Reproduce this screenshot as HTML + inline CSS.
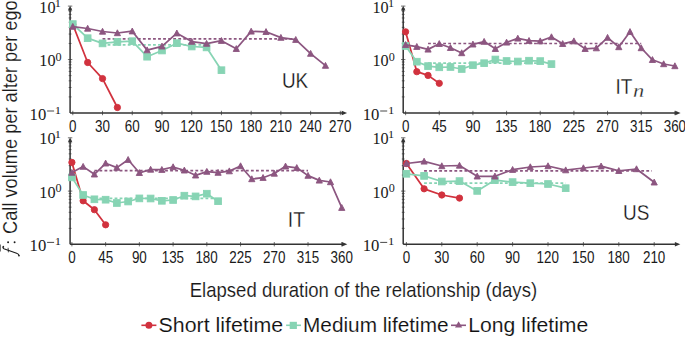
<!DOCTYPE html>
<html><head><meta charset="utf-8"><style>
html,body{margin:0;padding:0;background:#fff;}
body{width:685px;height:337px;overflow:hidden;}
svg{display:block;}
</style></head><body>
<svg width="685" height="337" viewBox="0 0 685 337">
<path d="M68.7 96.91h2.8M68.7 87.5h2.8M68.7 80.82h2.8M68.7 75.64h2.8M68.7 71.41h2.8M68.7 67.83h2.8M68.7 64.73h2.8M68.7 62h2.8M68.7 43.46h2.8M68.7 34.05h2.8M68.7 27.37h2.8M68.7 22.19h2.8M68.7 17.96h2.8M68.7 14.38h2.8M68.7 11.28h2.8M68.7 8.55h2.8M67.9 6.1h4.4M67.9 59.55h4.4" stroke="#333" stroke-width="0.7" fill="none"/>
<path d="M72.8 110.8v4.4M102.53 110.8v4.4M132.25 110.8v4.4M161.98 110.8v4.4M191.71 110.8v4.4M221.44 110.8v4.4M251.16 110.8v4.4M280.89 110.8v4.4M310.62 110.8v4.4M340.34 110.8v4.4" stroke="#333" stroke-width="0.7" fill="none"/>
<path d="M70.1 113V8.1M70.1 113H343.5" stroke="#333" stroke-width="1.5" fill="none"/>
<path d="M347.1 113l-5.4 -2.3v4.6z" fill="#333"/>
<path d="M70.1 5.8l-2.2 4.8h4.4z" fill="#333"/>
<text x="69.08" y="131.78" style="font-family:&quot;Liberation Sans&quot;,sans-serif;font-size:15.97px" fill="#1a1a1a" textLength="7.46" lengthAdjust="spacingAndGlyphs">0</text>
<text x="95.08" y="131.78" style="font-family:&quot;Liberation Sans&quot;,sans-serif;font-size:15.97px" fill="#1a1a1a" textLength="14.93" lengthAdjust="spacingAndGlyphs">30</text>
<text x="124.74" y="131.78" style="font-family:&quot;Liberation Sans&quot;,sans-serif;font-size:15.97px" fill="#1a1a1a" textLength="14.93" lengthAdjust="spacingAndGlyphs">60</text>
<text x="154.5" y="131.78" style="font-family:&quot;Liberation Sans&quot;,sans-serif;font-size:15.97px" fill="#1a1a1a" textLength="14.93" lengthAdjust="spacingAndGlyphs">90</text>
<text x="180.3" y="131.78" style="font-family:&quot;Liberation Sans&quot;,sans-serif;font-size:15.97px" fill="#1a1a1a" textLength="22.39" lengthAdjust="spacingAndGlyphs">120</text>
<text x="210.03" y="131.78" style="font-family:&quot;Liberation Sans&quot;,sans-serif;font-size:15.97px" fill="#1a1a1a" textLength="22.39" lengthAdjust="spacingAndGlyphs">150</text>
<text x="239.76" y="131.78" style="font-family:&quot;Liberation Sans&quot;,sans-serif;font-size:15.97px" fill="#1a1a1a" textLength="22.39" lengthAdjust="spacingAndGlyphs">180</text>
<text x="269.65" y="131.78" style="font-family:&quot;Liberation Sans&quot;,sans-serif;font-size:15.97px" fill="#1a1a1a" textLength="22.39" lengthAdjust="spacingAndGlyphs">210</text>
<text x="299.38" y="131.78" style="font-family:&quot;Liberation Sans&quot;,sans-serif;font-size:15.97px" fill="#1a1a1a" textLength="22.39" lengthAdjust="spacingAndGlyphs">240</text>
<text x="329.1" y="131.78" style="font-family:&quot;Liberation Sans&quot;,sans-serif;font-size:15.97px" fill="#1a1a1a" textLength="22.39" lengthAdjust="spacingAndGlyphs">270</text>
<text x="39.34" y="12.74" style="font-family:&quot;Liberation Serif&quot;,serif;font-size:16.15px" fill="#1a1a1a" textLength="16.21" lengthAdjust="spacingAndGlyphs">10</text>
<text x="54.89" y="6.7" style="font-family:&quot;Liberation Serif&quot;,serif;font-size:10.61px" fill="#1a1a1a" textLength="6.14" lengthAdjust="spacingAndGlyphs">1</text>
<text x="39.34" y="66.19" style="font-family:&quot;Liberation Serif&quot;,serif;font-size:16.15px" fill="#1a1a1a" textLength="16.21" lengthAdjust="spacingAndGlyphs">10</text>
<text x="55.61" y="60.94" style="font-family:&quot;Liberation Serif&quot;,serif;font-size:11.41px" fill="#1a1a1a" textLength="6.07" lengthAdjust="spacingAndGlyphs">0</text>
<text x="29.6" y="119.64" style="font-family:&quot;Liberation Serif&quot;,serif;font-size:16.15px" fill="#1a1a1a" textLength="16.67" lengthAdjust="spacingAndGlyphs">10</text>
<text x="54.87" y="114" style="font-family:&quot;Liberation Serif&quot;,serif;font-size:11.36px" fill="#1a1a1a" textLength="6.29" lengthAdjust="spacingAndGlyphs">1</text>
<path d="M47.1 111h7" stroke="#1a1a1a" stroke-width="0.8"/>
<path d="M102.53 38.9H295.75" stroke="#8c5680" stroke-width="1.7" stroke-dasharray="2.8 2.25" fill="none"/>
<path d="M102.53 44.8H206.57" stroke="#87d4b4" stroke-width="1.7" stroke-dasharray="2.8 2.25" fill="none"/>
<path d="M72.8 24.5 L87.66 62.5 L102.53 78.6 L117.39 107.5" stroke="#d1323e" stroke-width="1.75" fill="none" stroke-linejoin="round"/><circle cx="72.8" cy="24.5" r="3.15" fill="#d1323e" stroke="#d1323e" stroke-width="0.9"/><circle cx="87.66" cy="62.5" r="3.15" fill="#d1323e" stroke="#d1323e" stroke-width="0.9"/><circle cx="102.53" cy="78.6" r="3.15" fill="#d1323e" stroke="#d1323e" stroke-width="0.9"/><circle cx="117.39" cy="107.5" r="3.15" fill="#d1323e" stroke="#d1323e" stroke-width="0.9"/>
<path d="M72.8 24.1 L87.66 38.2 L102.53 43.4 L117.39 41.9 L132.25 41.2 L147.12 56.7 L161.98 50.5 L176.84 43.2 L191.71 46.5 L206.57 47.4 L221.44 70.2" stroke="#87d4b4" stroke-width="1.75" fill="none" stroke-linejoin="round"/><rect x="69.45" y="20.75" width="6.7" height="6.7" fill="#87d4b4" stroke="#87d4b4" stroke-width="0.9"/><rect x="84.31" y="34.85" width="6.7" height="6.7" fill="#87d4b4" stroke="#87d4b4" stroke-width="0.9"/><rect x="99.18" y="40.05" width="6.7" height="6.7" fill="#87d4b4" stroke="#87d4b4" stroke-width="0.9"/><rect x="114.04" y="38.55" width="6.7" height="6.7" fill="#87d4b4" stroke="#87d4b4" stroke-width="0.9"/><rect x="128.9" y="37.85" width="6.7" height="6.7" fill="#87d4b4" stroke="#87d4b4" stroke-width="0.9"/><rect x="143.77" y="53.35" width="6.7" height="6.7" fill="#87d4b4" stroke="#87d4b4" stroke-width="0.9"/><rect x="158.63" y="47.15" width="6.7" height="6.7" fill="#87d4b4" stroke="#87d4b4" stroke-width="0.9"/><rect x="173.49" y="39.85" width="6.7" height="6.7" fill="#87d4b4" stroke="#87d4b4" stroke-width="0.9"/><rect x="188.36" y="43.15" width="6.7" height="6.7" fill="#87d4b4" stroke="#87d4b4" stroke-width="0.9"/><rect x="203.22" y="44.05" width="6.7" height="6.7" fill="#87d4b4" stroke="#87d4b4" stroke-width="0.9"/><rect x="218.09" y="66.85" width="6.7" height="6.7" fill="#87d4b4" stroke="#87d4b4" stroke-width="0.9"/>
<path d="M72.8 26.6 L87.66 28.5 L102.53 31.5 L117.39 33 L132.25 31.2 L147.12 50.1 L161.98 46.3 L176.84 33.2 L191.71 41.6 L206.57 43.6 L221.44 40.7 L236.3 48.8 L251.16 31.4 L266.03 31.8 L280.89 37.6 L295.75 39.7 L310.62 53.6 L325.48 65.6" stroke="#8c5680" stroke-width="1.75" fill="none" stroke-linejoin="round"/><path d="M72.8 23.4l3.1 5.9h-6.2z" fill="#8c5680" stroke="#8c5680" stroke-width="0.9" stroke-linejoin="round"/><path d="M87.66 25.3l3.1 5.9h-6.2z" fill="#8c5680" stroke="#8c5680" stroke-width="0.9" stroke-linejoin="round"/><path d="M102.53 28.3l3.1 5.9h-6.2z" fill="#8c5680" stroke="#8c5680" stroke-width="0.9" stroke-linejoin="round"/><path d="M117.39 29.8l3.1 5.9h-6.2z" fill="#8c5680" stroke="#8c5680" stroke-width="0.9" stroke-linejoin="round"/><path d="M132.25 28l3.1 5.9h-6.2z" fill="#8c5680" stroke="#8c5680" stroke-width="0.9" stroke-linejoin="round"/><path d="M147.12 46.9l3.1 5.9h-6.2z" fill="#8c5680" stroke="#8c5680" stroke-width="0.9" stroke-linejoin="round"/><path d="M161.98 43.1l3.1 5.9h-6.2z" fill="#8c5680" stroke="#8c5680" stroke-width="0.9" stroke-linejoin="round"/><path d="M176.84 30l3.1 5.9h-6.2z" fill="#8c5680" stroke="#8c5680" stroke-width="0.9" stroke-linejoin="round"/><path d="M191.71 38.4l3.1 5.9h-6.2z" fill="#8c5680" stroke="#8c5680" stroke-width="0.9" stroke-linejoin="round"/><path d="M206.57 40.4l3.1 5.9h-6.2z" fill="#8c5680" stroke="#8c5680" stroke-width="0.9" stroke-linejoin="round"/><path d="M221.44 37.5l3.1 5.9h-6.2z" fill="#8c5680" stroke="#8c5680" stroke-width="0.9" stroke-linejoin="round"/><path d="M236.3 45.6l3.1 5.9h-6.2z" fill="#8c5680" stroke="#8c5680" stroke-width="0.9" stroke-linejoin="round"/><path d="M251.16 28.2l3.1 5.9h-6.2z" fill="#8c5680" stroke="#8c5680" stroke-width="0.9" stroke-linejoin="round"/><path d="M266.03 28.6l3.1 5.9h-6.2z" fill="#8c5680" stroke="#8c5680" stroke-width="0.9" stroke-linejoin="round"/><path d="M280.89 34.4l3.1 5.9h-6.2z" fill="#8c5680" stroke="#8c5680" stroke-width="0.9" stroke-linejoin="round"/><path d="M295.75 36.5l3.1 5.9h-6.2z" fill="#8c5680" stroke="#8c5680" stroke-width="0.9" stroke-linejoin="round"/><path d="M310.62 50.4l3.1 5.9h-6.2z" fill="#8c5680" stroke="#8c5680" stroke-width="0.9" stroke-linejoin="round"/><path d="M325.48 62.4l3.1 5.9h-6.2z" fill="#8c5680" stroke="#8c5680" stroke-width="0.9" stroke-linejoin="round"/>
<text x="281.88" y="88.28" style="font-family:&quot;Liberation Sans&quot;,sans-serif;font-size:22.43px" fill="#111" stroke="#fff" stroke-width="0.3" textLength="26.29" lengthAdjust="spacingAndGlyphs">UK</text>
<path d="M401.8 96.91h2.8M401.8 87.5h2.8M401.8 80.82h2.8M401.8 75.64h2.8M401.8 71.41h2.8M401.8 67.83h2.8M401.8 64.73h2.8M401.8 62h2.8M401.8 43.46h2.8M401.8 34.05h2.8M401.8 27.37h2.8M401.8 22.19h2.8M401.8 17.96h2.8M401.8 14.38h2.8M401.8 11.28h2.8M401.8 8.55h2.8M401 6.1h4.4M401 59.55h4.4" stroke="#333" stroke-width="0.7" fill="none"/>
<path d="M405.6 110.8v4.4M439.26 110.8v4.4M472.92 110.8v4.4M506.58 110.8v4.4M540.24 110.8v4.4M573.9 110.8v4.4M607.56 110.8v4.4M641.22 110.8v4.4M674.88 110.8v4.4" stroke="#333" stroke-width="0.7" fill="none"/>
<path d="M403.2 113V8.1M403.2 113H677" stroke="#333" stroke-width="1.5" fill="none"/>
<path d="M680.6 113l-5.4 -2.3v4.6z" fill="#333"/>
<path d="M403.2 5.8l-2.2 4.8h4.4z" fill="#333"/>
<text x="401.88" y="131.78" style="font-family:&quot;Liberation Sans&quot;,sans-serif;font-size:15.97px" fill="#1a1a1a" textLength="7.46" lengthAdjust="spacingAndGlyphs">0</text>
<text x="431.91" y="131.62" style="font-family:&quot;Liberation Sans&quot;,sans-serif;font-size:15.97px" fill="#1a1a1a" textLength="14.93" lengthAdjust="spacingAndGlyphs">45</text>
<text x="465.44" y="131.78" style="font-family:&quot;Liberation Sans&quot;,sans-serif;font-size:15.97px" fill="#1a1a1a" textLength="14.93" lengthAdjust="spacingAndGlyphs">90</text>
<text x="495.17" y="131.78" style="font-family:&quot;Liberation Sans&quot;,sans-serif;font-size:15.97px" fill="#1a1a1a" textLength="22.39" lengthAdjust="spacingAndGlyphs">135</text>
<text x="528.83" y="131.78" style="font-family:&quot;Liberation Sans&quot;,sans-serif;font-size:15.97px" fill="#1a1a1a" textLength="22.39" lengthAdjust="spacingAndGlyphs">180</text>
<text x="562.66" y="131.78" style="font-family:&quot;Liberation Sans&quot;,sans-serif;font-size:15.97px" fill="#1a1a1a" textLength="22.39" lengthAdjust="spacingAndGlyphs">225</text>
<text x="596.32" y="131.78" style="font-family:&quot;Liberation Sans&quot;,sans-serif;font-size:15.97px" fill="#1a1a1a" textLength="22.39" lengthAdjust="spacingAndGlyphs">270</text>
<text x="630.05" y="131.78" style="font-family:&quot;Liberation Sans&quot;,sans-serif;font-size:15.97px" fill="#1a1a1a" textLength="22.39" lengthAdjust="spacingAndGlyphs">315</text>
<text x="663.71" y="131.78" style="font-family:&quot;Liberation Sans&quot;,sans-serif;font-size:15.97px" fill="#1a1a1a" textLength="22.39" lengthAdjust="spacingAndGlyphs">360</text>
<text x="372.44" y="12.74" style="font-family:&quot;Liberation Serif&quot;,serif;font-size:16.15px" fill="#1a1a1a" textLength="16.21" lengthAdjust="spacingAndGlyphs">10</text>
<text x="387.99" y="6.7" style="font-family:&quot;Liberation Serif&quot;,serif;font-size:10.61px" fill="#1a1a1a" textLength="6.14" lengthAdjust="spacingAndGlyphs">1</text>
<text x="372.44" y="66.19" style="font-family:&quot;Liberation Serif&quot;,serif;font-size:16.15px" fill="#1a1a1a" textLength="16.21" lengthAdjust="spacingAndGlyphs">10</text>
<text x="388.71" y="60.94" style="font-family:&quot;Liberation Serif&quot;,serif;font-size:11.41px" fill="#1a1a1a" textLength="6.07" lengthAdjust="spacingAndGlyphs">0</text>
<text x="362.7" y="119.64" style="font-family:&quot;Liberation Serif&quot;,serif;font-size:16.15px" fill="#1a1a1a" textLength="16.67" lengthAdjust="spacingAndGlyphs">10</text>
<text x="387.97" y="114" style="font-family:&quot;Liberation Serif&quot;,serif;font-size:11.36px" fill="#1a1a1a" textLength="6.29" lengthAdjust="spacingAndGlyphs">1</text>
<path d="M380.2 111h7" stroke="#1a1a1a" stroke-width="0.8"/>
<path d="M428.04 43.5H641.22" stroke="#8c5680" stroke-width="1.7" stroke-dasharray="2.8 2.25" fill="none"/>
<path d="M428.04 63.2H540.24" stroke="#87d4b4" stroke-width="1.7" stroke-dasharray="2.8 2.25" fill="none"/>
<path d="M405.6 31.8 L416.82 71.7 L428.04 75.4 L439.26 83.3" stroke="#d1323e" stroke-width="1.75" fill="none" stroke-linejoin="round"/><circle cx="405.6" cy="31.8" r="3.15" fill="#d1323e" stroke="#d1323e" stroke-width="0.9"/><circle cx="416.82" cy="71.7" r="3.15" fill="#d1323e" stroke="#d1323e" stroke-width="0.9"/><circle cx="428.04" cy="75.4" r="3.15" fill="#d1323e" stroke="#d1323e" stroke-width="0.9"/><circle cx="439.26" cy="83.3" r="3.15" fill="#d1323e" stroke="#d1323e" stroke-width="0.9"/>
<path d="M405.6 46 L416.82 61.7 L428.04 66.1 L439.26 67.3 L450.48 67 L461.7 69 L472.92 65.2 L484.14 63.2 L495.36 59.5 L506.58 61 L517.8 61.5 L529.02 60.7 L540.24 61.1 L551.46 64.1" stroke="#87d4b4" stroke-width="1.75" fill="none" stroke-linejoin="round"/><rect x="402.25" y="42.65" width="6.7" height="6.7" fill="#87d4b4" stroke="#87d4b4" stroke-width="0.9"/><rect x="413.47" y="58.35" width="6.7" height="6.7" fill="#87d4b4" stroke="#87d4b4" stroke-width="0.9"/><rect x="424.69" y="62.75" width="6.7" height="6.7" fill="#87d4b4" stroke="#87d4b4" stroke-width="0.9"/><rect x="435.91" y="63.95" width="6.7" height="6.7" fill="#87d4b4" stroke="#87d4b4" stroke-width="0.9"/><rect x="447.13" y="63.65" width="6.7" height="6.7" fill="#87d4b4" stroke="#87d4b4" stroke-width="0.9"/><rect x="458.35" y="65.65" width="6.7" height="6.7" fill="#87d4b4" stroke="#87d4b4" stroke-width="0.9"/><rect x="469.57" y="61.85" width="6.7" height="6.7" fill="#87d4b4" stroke="#87d4b4" stroke-width="0.9"/><rect x="480.79" y="59.85" width="6.7" height="6.7" fill="#87d4b4" stroke="#87d4b4" stroke-width="0.9"/><rect x="492.01" y="56.15" width="6.7" height="6.7" fill="#87d4b4" stroke="#87d4b4" stroke-width="0.9"/><rect x="503.23" y="57.65" width="6.7" height="6.7" fill="#87d4b4" stroke="#87d4b4" stroke-width="0.9"/><rect x="514.45" y="58.15" width="6.7" height="6.7" fill="#87d4b4" stroke="#87d4b4" stroke-width="0.9"/><rect x="525.67" y="57.35" width="6.7" height="6.7" fill="#87d4b4" stroke="#87d4b4" stroke-width="0.9"/><rect x="536.89" y="57.75" width="6.7" height="6.7" fill="#87d4b4" stroke="#87d4b4" stroke-width="0.9"/><rect x="548.11" y="60.75" width="6.7" height="6.7" fill="#87d4b4" stroke="#87d4b4" stroke-width="0.9"/>
<path d="M405.6 44.8 L416.82 46.7 L428.04 49.4 L439.26 43.8 L450.48 47.8 L461.7 53 L472.92 44.3 L484.14 41.6 L495.36 48.8 L506.58 42.4 L517.8 38.4 L529.02 40.7 L540.24 41.1 L551.46 37 L562.68 43.8 L573.9 41.1 L585.12 48.8 L596.34 48.1 L607.56 37.6 L618.78 47 L630 31.8 L641.22 48 L652.44 59.8 L663.66 64 L674.88 66" stroke="#8c5680" stroke-width="1.75" fill="none" stroke-linejoin="round"/><path d="M405.6 41.6l3.1 5.9h-6.2z" fill="#8c5680" stroke="#8c5680" stroke-width="0.9" stroke-linejoin="round"/><path d="M416.82 43.5l3.1 5.9h-6.2z" fill="#8c5680" stroke="#8c5680" stroke-width="0.9" stroke-linejoin="round"/><path d="M428.04 46.2l3.1 5.9h-6.2z" fill="#8c5680" stroke="#8c5680" stroke-width="0.9" stroke-linejoin="round"/><path d="M439.26 40.6l3.1 5.9h-6.2z" fill="#8c5680" stroke="#8c5680" stroke-width="0.9" stroke-linejoin="round"/><path d="M450.48 44.6l3.1 5.9h-6.2z" fill="#8c5680" stroke="#8c5680" stroke-width="0.9" stroke-linejoin="round"/><path d="M461.7 49.8l3.1 5.9h-6.2z" fill="#8c5680" stroke="#8c5680" stroke-width="0.9" stroke-linejoin="round"/><path d="M472.92 41.1l3.1 5.9h-6.2z" fill="#8c5680" stroke="#8c5680" stroke-width="0.9" stroke-linejoin="round"/><path d="M484.14 38.4l3.1 5.9h-6.2z" fill="#8c5680" stroke="#8c5680" stroke-width="0.9" stroke-linejoin="round"/><path d="M495.36 45.6l3.1 5.9h-6.2z" fill="#8c5680" stroke="#8c5680" stroke-width="0.9" stroke-linejoin="round"/><path d="M506.58 39.2l3.1 5.9h-6.2z" fill="#8c5680" stroke="#8c5680" stroke-width="0.9" stroke-linejoin="round"/><path d="M517.8 35.2l3.1 5.9h-6.2z" fill="#8c5680" stroke="#8c5680" stroke-width="0.9" stroke-linejoin="round"/><path d="M529.02 37.5l3.1 5.9h-6.2z" fill="#8c5680" stroke="#8c5680" stroke-width="0.9" stroke-linejoin="round"/><path d="M540.24 37.9l3.1 5.9h-6.2z" fill="#8c5680" stroke="#8c5680" stroke-width="0.9" stroke-linejoin="round"/><path d="M551.46 33.8l3.1 5.9h-6.2z" fill="#8c5680" stroke="#8c5680" stroke-width="0.9" stroke-linejoin="round"/><path d="M562.68 40.6l3.1 5.9h-6.2z" fill="#8c5680" stroke="#8c5680" stroke-width="0.9" stroke-linejoin="round"/><path d="M573.9 37.9l3.1 5.9h-6.2z" fill="#8c5680" stroke="#8c5680" stroke-width="0.9" stroke-linejoin="round"/><path d="M585.12 45.6l3.1 5.9h-6.2z" fill="#8c5680" stroke="#8c5680" stroke-width="0.9" stroke-linejoin="round"/><path d="M596.34 44.9l3.1 5.9h-6.2z" fill="#8c5680" stroke="#8c5680" stroke-width="0.9" stroke-linejoin="round"/><path d="M607.56 34.4l3.1 5.9h-6.2z" fill="#8c5680" stroke="#8c5680" stroke-width="0.9" stroke-linejoin="round"/><path d="M618.78 43.8l3.1 5.9h-6.2z" fill="#8c5680" stroke="#8c5680" stroke-width="0.9" stroke-linejoin="round"/><path d="M630 28.6l3.1 5.9h-6.2z" fill="#8c5680" stroke="#8c5680" stroke-width="0.9" stroke-linejoin="round"/><path d="M641.22 44.8l3.1 5.9h-6.2z" fill="#8c5680" stroke="#8c5680" stroke-width="0.9" stroke-linejoin="round"/><path d="M652.44 56.6l3.1 5.9h-6.2z" fill="#8c5680" stroke="#8c5680" stroke-width="0.9" stroke-linejoin="round"/><path d="M663.66 60.8l3.1 5.9h-6.2z" fill="#8c5680" stroke="#8c5680" stroke-width="0.9" stroke-linejoin="round"/><path d="M674.88 62.8l3.1 5.9h-6.2z" fill="#8c5680" stroke="#8c5680" stroke-width="0.9" stroke-linejoin="round"/>
<text x="615.49" y="93.5" style="font-family:&quot;Liberation Sans&quot;,sans-serif;font-size:22.32px" fill="#111" stroke="#fff" stroke-width="0.3" textLength="16.86" lengthAdjust="spacingAndGlyphs">IT</text>
<text x="633.02" y="96.7" style="font-family:&quot;Liberation Serif&quot;,serif;font-style:italic;font-size:19.57px" fill="#111" stroke="#fff" stroke-width="0.3" textLength="11.18" lengthAdjust="spacingAndGlyphs">n</text>
<path d="M68.7 228.36h2.8M68.7 218.97h2.8M68.7 212.31h2.8M68.7 207.14h2.8M68.7 202.92h2.8M68.7 199.36h2.8M68.7 196.27h2.8M68.7 193.54h2.8M68.7 175.06h2.8M68.7 165.67h2.8M68.7 159.01h2.8M68.7 153.84h2.8M68.7 149.62h2.8M68.7 146.06h2.8M68.7 142.97h2.8M68.7 140.24h2.8M67.9 137.8h4.4M67.9 191.1h4.4" stroke="#333" stroke-width="0.7" fill="none"/>
<path d="M71.9 242v4.4M105.63 242v4.4M139.36 242v4.4M173.1 242v4.4M206.83 242v4.4M240.56 242v4.4M274.29 242v4.4M308.02 242v4.4M341.76 242v4.4" stroke="#333" stroke-width="0.7" fill="none"/>
<path d="M70.1 244.2V139.8M70.1 244.2H343.7" stroke="#333" stroke-width="1.5" fill="none"/>
<path d="M347.3 244.2l-5.4 -2.3v4.6z" fill="#333"/>
<path d="M70.1 137.5l-2.2 4.8h4.4z" fill="#333"/>
<text x="68.18" y="262.98" style="font-family:&quot;Liberation Sans&quot;,sans-serif;font-size:15.97px" fill="#1a1a1a" textLength="7.46" lengthAdjust="spacingAndGlyphs">0</text>
<text x="98.28" y="262.82" style="font-family:&quot;Liberation Sans&quot;,sans-serif;font-size:15.97px" fill="#1a1a1a" textLength="14.93" lengthAdjust="spacingAndGlyphs">45</text>
<text x="131.88" y="262.98" style="font-family:&quot;Liberation Sans&quot;,sans-serif;font-size:15.97px" fill="#1a1a1a" textLength="14.93" lengthAdjust="spacingAndGlyphs">90</text>
<text x="161.69" y="262.98" style="font-family:&quot;Liberation Sans&quot;,sans-serif;font-size:15.97px" fill="#1a1a1a" textLength="22.39" lengthAdjust="spacingAndGlyphs">135</text>
<text x="195.42" y="262.98" style="font-family:&quot;Liberation Sans&quot;,sans-serif;font-size:15.97px" fill="#1a1a1a" textLength="22.39" lengthAdjust="spacingAndGlyphs">180</text>
<text x="229.32" y="262.98" style="font-family:&quot;Liberation Sans&quot;,sans-serif;font-size:15.97px" fill="#1a1a1a" textLength="22.39" lengthAdjust="spacingAndGlyphs">225</text>
<text x="263.05" y="262.98" style="font-family:&quot;Liberation Sans&quot;,sans-serif;font-size:15.97px" fill="#1a1a1a" textLength="22.39" lengthAdjust="spacingAndGlyphs">270</text>
<text x="296.85" y="262.98" style="font-family:&quot;Liberation Sans&quot;,sans-serif;font-size:15.97px" fill="#1a1a1a" textLength="22.39" lengthAdjust="spacingAndGlyphs">315</text>
<text x="330.58" y="262.98" style="font-family:&quot;Liberation Sans&quot;,sans-serif;font-size:15.97px" fill="#1a1a1a" textLength="22.39" lengthAdjust="spacingAndGlyphs">360</text>
<text x="39.34" y="144.44" style="font-family:&quot;Liberation Serif&quot;,serif;font-size:16.15px" fill="#1a1a1a" textLength="16.21" lengthAdjust="spacingAndGlyphs">10</text>
<text x="54.89" y="138.4" style="font-family:&quot;Liberation Serif&quot;,serif;font-size:10.61px" fill="#1a1a1a" textLength="6.14" lengthAdjust="spacingAndGlyphs">1</text>
<text x="39.34" y="197.74" style="font-family:&quot;Liberation Serif&quot;,serif;font-size:16.15px" fill="#1a1a1a" textLength="16.21" lengthAdjust="spacingAndGlyphs">10</text>
<text x="55.61" y="192.49" style="font-family:&quot;Liberation Serif&quot;,serif;font-size:11.41px" fill="#1a1a1a" textLength="6.07" lengthAdjust="spacingAndGlyphs">0</text>
<text x="29.6" y="251.04" style="font-family:&quot;Liberation Serif&quot;,serif;font-size:16.15px" fill="#1a1a1a" textLength="16.67" lengthAdjust="spacingAndGlyphs">10</text>
<text x="54.87" y="245.4" style="font-family:&quot;Liberation Serif&quot;,serif;font-size:11.36px" fill="#1a1a1a" textLength="6.29" lengthAdjust="spacingAndGlyphs">1</text>
<path d="M47.1 242.4h7" stroke="#1a1a1a" stroke-width="0.8"/>
<path d="M94.39 170.6H308.02" stroke="#8c5680" stroke-width="1.7" stroke-dasharray="2.8 2.25" fill="none"/>
<path d="M94.39 198.4H214.32" stroke="#87d4b4" stroke-width="1.7" stroke-dasharray="2.8 2.25" fill="none"/>
<path d="M71.9 162.4 L83.14 200.8 L94.39 209.7 L105.63 224.8" stroke="#d1323e" stroke-width="1.75" fill="none" stroke-linejoin="round"/><circle cx="71.9" cy="162.4" r="3.15" fill="#d1323e" stroke="#d1323e" stroke-width="0.9"/><circle cx="83.14" cy="200.8" r="3.15" fill="#d1323e" stroke="#d1323e" stroke-width="0.9"/><circle cx="94.39" cy="209.7" r="3.15" fill="#d1323e" stroke="#d1323e" stroke-width="0.9"/><circle cx="105.63" cy="224.8" r="3.15" fill="#d1323e" stroke="#d1323e" stroke-width="0.9"/>
<path d="M71.9 177.4 L83.14 195 L94.39 199.3 L105.63 199.7 L116.88 203 L128.12 201.5 L139.36 198.4 L150.61 198.5 L161.85 200.8 L173.1 200 L184.34 195.7 L195.58 196.4 L206.83 193.7 L218.07 201.2" stroke="#87d4b4" stroke-width="1.75" fill="none" stroke-linejoin="round"/><rect x="68.55" y="174.05" width="6.7" height="6.7" fill="#87d4b4" stroke="#87d4b4" stroke-width="0.9"/><rect x="79.79" y="191.65" width="6.7" height="6.7" fill="#87d4b4" stroke="#87d4b4" stroke-width="0.9"/><rect x="91.04" y="195.95" width="6.7" height="6.7" fill="#87d4b4" stroke="#87d4b4" stroke-width="0.9"/><rect x="102.28" y="196.35" width="6.7" height="6.7" fill="#87d4b4" stroke="#87d4b4" stroke-width="0.9"/><rect x="113.53" y="199.65" width="6.7" height="6.7" fill="#87d4b4" stroke="#87d4b4" stroke-width="0.9"/><rect x="124.77" y="198.15" width="6.7" height="6.7" fill="#87d4b4" stroke="#87d4b4" stroke-width="0.9"/><rect x="136.01" y="195.05" width="6.7" height="6.7" fill="#87d4b4" stroke="#87d4b4" stroke-width="0.9"/><rect x="147.26" y="195.15" width="6.7" height="6.7" fill="#87d4b4" stroke="#87d4b4" stroke-width="0.9"/><rect x="158.5" y="197.45" width="6.7" height="6.7" fill="#87d4b4" stroke="#87d4b4" stroke-width="0.9"/><rect x="169.75" y="196.65" width="6.7" height="6.7" fill="#87d4b4" stroke="#87d4b4" stroke-width="0.9"/><rect x="180.99" y="192.35" width="6.7" height="6.7" fill="#87d4b4" stroke="#87d4b4" stroke-width="0.9"/><rect x="192.23" y="193.05" width="6.7" height="6.7" fill="#87d4b4" stroke="#87d4b4" stroke-width="0.9"/><rect x="203.48" y="190.35" width="6.7" height="6.7" fill="#87d4b4" stroke="#87d4b4" stroke-width="0.9"/><rect x="214.72" y="197.85" width="6.7" height="6.7" fill="#87d4b4" stroke="#87d4b4" stroke-width="0.9"/>
<path d="M71.9 172.6 L83.14 166.6 L94.39 174.3 L105.63 163.3 L116.88 167.6 L128.12 159.7 L139.36 172.8 L150.61 169.5 L161.85 169.7 L173.1 167 L184.34 170.3 L195.58 175.3 L206.83 171.6 L218.07 172.6 L229.32 171.1 L240.56 166 L251.8 179 L263.05 177.7 L274.29 173.5 L285.54 166.3 L296.78 167.8 L308.02 175.6 L319.27 180.4 L330.51 182 L341.76 207.7" stroke="#8c5680" stroke-width="1.75" fill="none" stroke-linejoin="round"/><path d="M71.9 169.4l3.1 5.9h-6.2z" fill="#8c5680" stroke="#8c5680" stroke-width="0.9" stroke-linejoin="round"/><path d="M83.14 163.4l3.1 5.9h-6.2z" fill="#8c5680" stroke="#8c5680" stroke-width="0.9" stroke-linejoin="round"/><path d="M94.39 171.1l3.1 5.9h-6.2z" fill="#8c5680" stroke="#8c5680" stroke-width="0.9" stroke-linejoin="round"/><path d="M105.63 160.1l3.1 5.9h-6.2z" fill="#8c5680" stroke="#8c5680" stroke-width="0.9" stroke-linejoin="round"/><path d="M116.88 164.4l3.1 5.9h-6.2z" fill="#8c5680" stroke="#8c5680" stroke-width="0.9" stroke-linejoin="round"/><path d="M128.12 156.5l3.1 5.9h-6.2z" fill="#8c5680" stroke="#8c5680" stroke-width="0.9" stroke-linejoin="round"/><path d="M139.36 169.6l3.1 5.9h-6.2z" fill="#8c5680" stroke="#8c5680" stroke-width="0.9" stroke-linejoin="round"/><path d="M150.61 166.3l3.1 5.9h-6.2z" fill="#8c5680" stroke="#8c5680" stroke-width="0.9" stroke-linejoin="round"/><path d="M161.85 166.5l3.1 5.9h-6.2z" fill="#8c5680" stroke="#8c5680" stroke-width="0.9" stroke-linejoin="round"/><path d="M173.1 163.8l3.1 5.9h-6.2z" fill="#8c5680" stroke="#8c5680" stroke-width="0.9" stroke-linejoin="round"/><path d="M184.34 167.1l3.1 5.9h-6.2z" fill="#8c5680" stroke="#8c5680" stroke-width="0.9" stroke-linejoin="round"/><path d="M195.58 172.1l3.1 5.9h-6.2z" fill="#8c5680" stroke="#8c5680" stroke-width="0.9" stroke-linejoin="round"/><path d="M206.83 168.4l3.1 5.9h-6.2z" fill="#8c5680" stroke="#8c5680" stroke-width="0.9" stroke-linejoin="round"/><path d="M218.07 169.4l3.1 5.9h-6.2z" fill="#8c5680" stroke="#8c5680" stroke-width="0.9" stroke-linejoin="round"/><path d="M229.32 167.9l3.1 5.9h-6.2z" fill="#8c5680" stroke="#8c5680" stroke-width="0.9" stroke-linejoin="round"/><path d="M240.56 162.8l3.1 5.9h-6.2z" fill="#8c5680" stroke="#8c5680" stroke-width="0.9" stroke-linejoin="round"/><path d="M251.8 175.8l3.1 5.9h-6.2z" fill="#8c5680" stroke="#8c5680" stroke-width="0.9" stroke-linejoin="round"/><path d="M263.05 174.5l3.1 5.9h-6.2z" fill="#8c5680" stroke="#8c5680" stroke-width="0.9" stroke-linejoin="round"/><path d="M274.29 170.3l3.1 5.9h-6.2z" fill="#8c5680" stroke="#8c5680" stroke-width="0.9" stroke-linejoin="round"/><path d="M285.54 163.1l3.1 5.9h-6.2z" fill="#8c5680" stroke="#8c5680" stroke-width="0.9" stroke-linejoin="round"/><path d="M296.78 164.6l3.1 5.9h-6.2z" fill="#8c5680" stroke="#8c5680" stroke-width="0.9" stroke-linejoin="round"/><path d="M308.02 172.4l3.1 5.9h-6.2z" fill="#8c5680" stroke="#8c5680" stroke-width="0.9" stroke-linejoin="round"/><path d="M319.27 177.2l3.1 5.9h-6.2z" fill="#8c5680" stroke="#8c5680" stroke-width="0.9" stroke-linejoin="round"/><path d="M330.51 178.8l3.1 5.9h-6.2z" fill="#8c5680" stroke="#8c5680" stroke-width="0.9" stroke-linejoin="round"/><path d="M341.76 204.5l3.1 5.9h-6.2z" fill="#8c5680" stroke="#8c5680" stroke-width="0.9" stroke-linejoin="round"/>
<text x="287.86" y="226.8" style="font-family:&quot;Liberation Sans&quot;,sans-serif;font-size:22.32px" fill="#111" stroke="#fff" stroke-width="0.3" textLength="17.2" lengthAdjust="spacingAndGlyphs">IT</text>
<path d="M401.8 228.36h2.8M401.8 218.97h2.8M401.8 212.31h2.8M401.8 207.14h2.8M401.8 202.92h2.8M401.8 199.36h2.8M401.8 196.27h2.8M401.8 193.54h2.8M401.8 175.06h2.8M401.8 165.67h2.8M401.8 159.01h2.8M401.8 153.84h2.8M401.8 149.62h2.8M401.8 146.06h2.8M401.8 142.97h2.8M401.8 140.24h2.8M401 137.8h4.4M401 191.1h4.4" stroke="#333" stroke-width="0.7" fill="none"/>
<path d="M406.4 242v4.4M441.8 242v4.4M477.2 242v4.4M512.6 242v4.4M548 242v4.4M583.4 242v4.4M618.8 242v4.4M654.2 242v4.4" stroke="#333" stroke-width="0.7" fill="none"/>
<path d="M403.2 244.2V139.8M403.2 244.2H676.7" stroke="#333" stroke-width="1.5" fill="none"/>
<path d="M680.3 244.2l-5.4 -2.3v4.6z" fill="#333"/>
<path d="M403.2 137.5l-2.2 4.8h4.4z" fill="#333"/>
<text x="402.68" y="262.98" style="font-family:&quot;Liberation Sans&quot;,sans-serif;font-size:15.97px" fill="#1a1a1a" textLength="7.46" lengthAdjust="spacingAndGlyphs">0</text>
<text x="434.35" y="262.98" style="font-family:&quot;Liberation Sans&quot;,sans-serif;font-size:15.97px" fill="#1a1a1a" textLength="14.93" lengthAdjust="spacingAndGlyphs">30</text>
<text x="469.69" y="262.98" style="font-family:&quot;Liberation Sans&quot;,sans-serif;font-size:15.97px" fill="#1a1a1a" textLength="14.93" lengthAdjust="spacingAndGlyphs">60</text>
<text x="505.12" y="262.98" style="font-family:&quot;Liberation Sans&quot;,sans-serif;font-size:15.97px" fill="#1a1a1a" textLength="14.93" lengthAdjust="spacingAndGlyphs">90</text>
<text x="536.59" y="262.98" style="font-family:&quot;Liberation Sans&quot;,sans-serif;font-size:15.97px" fill="#1a1a1a" textLength="22.39" lengthAdjust="spacingAndGlyphs">120</text>
<text x="571.99" y="262.98" style="font-family:&quot;Liberation Sans&quot;,sans-serif;font-size:15.97px" fill="#1a1a1a" textLength="22.39" lengthAdjust="spacingAndGlyphs">150</text>
<text x="607.39" y="262.98" style="font-family:&quot;Liberation Sans&quot;,sans-serif;font-size:15.97px" fill="#1a1a1a" textLength="22.39" lengthAdjust="spacingAndGlyphs">180</text>
<text x="642.96" y="262.98" style="font-family:&quot;Liberation Sans&quot;,sans-serif;font-size:15.97px" fill="#1a1a1a" textLength="22.39" lengthAdjust="spacingAndGlyphs">210</text>
<text x="372.44" y="144.44" style="font-family:&quot;Liberation Serif&quot;,serif;font-size:16.15px" fill="#1a1a1a" textLength="16.21" lengthAdjust="spacingAndGlyphs">10</text>
<text x="387.99" y="138.4" style="font-family:&quot;Liberation Serif&quot;,serif;font-size:10.61px" fill="#1a1a1a" textLength="6.14" lengthAdjust="spacingAndGlyphs">1</text>
<text x="372.44" y="197.74" style="font-family:&quot;Liberation Serif&quot;,serif;font-size:16.15px" fill="#1a1a1a" textLength="16.21" lengthAdjust="spacingAndGlyphs">10</text>
<text x="388.71" y="192.49" style="font-family:&quot;Liberation Serif&quot;,serif;font-size:11.41px" fill="#1a1a1a" textLength="6.07" lengthAdjust="spacingAndGlyphs">0</text>
<text x="362.7" y="251.04" style="font-family:&quot;Liberation Serif&quot;,serif;font-size:16.15px" fill="#1a1a1a" textLength="16.67" lengthAdjust="spacingAndGlyphs">10</text>
<text x="387.97" y="245.4" style="font-family:&quot;Liberation Serif&quot;,serif;font-size:11.36px" fill="#1a1a1a" textLength="6.29" lengthAdjust="spacingAndGlyphs">1</text>
<path d="M380.2 242.4h7" stroke="#1a1a1a" stroke-width="0.8"/>
<path d="M424.1 170.9H651.84" stroke="#8c5680" stroke-width="1.7" stroke-dasharray="2.8 2.25" fill="none"/>
<path d="M424.1 183.2H565.7" stroke="#87d4b4" stroke-width="1.7" stroke-dasharray="2.8 2.25" fill="none"/>
<path d="M406.4 163.5 L424.1 188.8 L441.8 195 L459.5 198.1" stroke="#d1323e" stroke-width="1.75" fill="none" stroke-linejoin="round"/><circle cx="406.4" cy="163.5" r="3.15" fill="#d1323e" stroke="#d1323e" stroke-width="0.9"/><circle cx="424.1" cy="188.8" r="3.15" fill="#d1323e" stroke="#d1323e" stroke-width="0.9"/><circle cx="441.8" cy="195" r="3.15" fill="#d1323e" stroke="#d1323e" stroke-width="0.9"/><circle cx="459.5" cy="198.1" r="3.15" fill="#d1323e" stroke="#d1323e" stroke-width="0.9"/>
<path d="M406.4 173.8 L424.1 175.9 L441.8 181.5 L459.5 181.1 L477.2 190.9 L494.9 180.1 L512.6 182.1 L530.3 183.2 L548 184 L565.7 188.2" stroke="#87d4b4" stroke-width="1.75" fill="none" stroke-linejoin="round"/><rect x="403.05" y="170.45" width="6.7" height="6.7" fill="#87d4b4" stroke="#87d4b4" stroke-width="0.9"/><rect x="420.75" y="172.55" width="6.7" height="6.7" fill="#87d4b4" stroke="#87d4b4" stroke-width="0.9"/><rect x="438.45" y="178.15" width="6.7" height="6.7" fill="#87d4b4" stroke="#87d4b4" stroke-width="0.9"/><rect x="456.15" y="177.75" width="6.7" height="6.7" fill="#87d4b4" stroke="#87d4b4" stroke-width="0.9"/><rect x="473.85" y="187.55" width="6.7" height="6.7" fill="#87d4b4" stroke="#87d4b4" stroke-width="0.9"/><rect x="491.55" y="176.75" width="6.7" height="6.7" fill="#87d4b4" stroke="#87d4b4" stroke-width="0.9"/><rect x="509.25" y="178.75" width="6.7" height="6.7" fill="#87d4b4" stroke="#87d4b4" stroke-width="0.9"/><rect x="526.95" y="179.85" width="6.7" height="6.7" fill="#87d4b4" stroke="#87d4b4" stroke-width="0.9"/><rect x="544.65" y="180.65" width="6.7" height="6.7" fill="#87d4b4" stroke="#87d4b4" stroke-width="0.9"/><rect x="562.35" y="184.85" width="6.7" height="6.7" fill="#87d4b4" stroke="#87d4b4" stroke-width="0.9"/>
<path d="M406.4 163.5 L424.1 161.4 L441.8 166 L459.5 165.5 L477.2 176.3 L494.9 176.3 L512.6 169.7 L530.3 167 L548 166 L565.7 170.1 L583.4 168 L601.1 166.2 L618.8 170.8 L636.5 169 L654.2 182.3" stroke="#8c5680" stroke-width="1.75" fill="none" stroke-linejoin="round"/><path d="M406.4 160.3l3.1 5.9h-6.2z" fill="#8c5680" stroke="#8c5680" stroke-width="0.9" stroke-linejoin="round"/><path d="M424.1 158.2l3.1 5.9h-6.2z" fill="#8c5680" stroke="#8c5680" stroke-width="0.9" stroke-linejoin="round"/><path d="M441.8 162.8l3.1 5.9h-6.2z" fill="#8c5680" stroke="#8c5680" stroke-width="0.9" stroke-linejoin="round"/><path d="M459.5 162.3l3.1 5.9h-6.2z" fill="#8c5680" stroke="#8c5680" stroke-width="0.9" stroke-linejoin="round"/><path d="M477.2 173.1l3.1 5.9h-6.2z" fill="#8c5680" stroke="#8c5680" stroke-width="0.9" stroke-linejoin="round"/><path d="M494.9 173.1l3.1 5.9h-6.2z" fill="#8c5680" stroke="#8c5680" stroke-width="0.9" stroke-linejoin="round"/><path d="M512.6 166.5l3.1 5.9h-6.2z" fill="#8c5680" stroke="#8c5680" stroke-width="0.9" stroke-linejoin="round"/><path d="M530.3 163.8l3.1 5.9h-6.2z" fill="#8c5680" stroke="#8c5680" stroke-width="0.9" stroke-linejoin="round"/><path d="M548 162.8l3.1 5.9h-6.2z" fill="#8c5680" stroke="#8c5680" stroke-width="0.9" stroke-linejoin="round"/><path d="M565.7 166.9l3.1 5.9h-6.2z" fill="#8c5680" stroke="#8c5680" stroke-width="0.9" stroke-linejoin="round"/><path d="M583.4 164.8l3.1 5.9h-6.2z" fill="#8c5680" stroke="#8c5680" stroke-width="0.9" stroke-linejoin="round"/><path d="M601.1 163l3.1 5.9h-6.2z" fill="#8c5680" stroke="#8c5680" stroke-width="0.9" stroke-linejoin="round"/><path d="M618.8 167.6l3.1 5.9h-6.2z" fill="#8c5680" stroke="#8c5680" stroke-width="0.9" stroke-linejoin="round"/><path d="M636.5 165.8l3.1 5.9h-6.2z" fill="#8c5680" stroke="#8c5680" stroke-width="0.9" stroke-linejoin="round"/><path d="M654.2 179.1l3.1 5.9h-6.2z" fill="#8c5680" stroke="#8c5680" stroke-width="0.9" stroke-linejoin="round"/>
<text x="623.08" y="219.68" style="font-family:&quot;Liberation Sans&quot;,sans-serif;font-size:21.69px" fill="#111" stroke="#fff" stroke-width="0.3" textLength="26.36" lengthAdjust="spacingAndGlyphs">US</text>
<text x="189.72" y="296.6" style="font-family:&quot;Liberation Sans&quot;,sans-serif;font-size:19.42px" fill="#1a1a1a" stroke="#fff" stroke-width="0.12" textLength="347.37" lengthAdjust="spacingAndGlyphs">Elapsed duration of the relationship (days)</text>
<g transform="translate(16.7 256) rotate(-90)"><text x="22.09" y="0" style="font-family:&quot;Liberation Sans&quot;,sans-serif;font-size:19.30px" fill="#1a1a1a" stroke="#fff" stroke-width="0.12" textLength="233.64" lengthAdjust="spacingAndGlyphs">Call volume per alter per ego</text></g>
<path d="M3.6 246.3C2.6 246.6 2.7 248.2 3.9 248.7L16.6 253.3C18.2 253.9 19.3 254.6 19 255.6" stroke="#1a1a1a" stroke-width="1.05" fill="none" stroke-linecap="round"/>
<circle cx="3.4" cy="247" r="0.8" fill="#1a1a1a"/><circle cx="18.9" cy="255.7" r="0.8" fill="#1a1a1a"/>
<path d="M8.1 247.8L8.4 252.3" stroke="#1a1a1a" stroke-width="0.8"/>
<circle cx="8.1" cy="242.3" r="0.95" fill="#1a1a1a"/><circle cx="14.6" cy="242.3" r="0.95" fill="#1a1a1a"/>
<rect x="0" y="244.5" width="0.9" height="7" fill="#666"/>
<path d="M141.4 325.3H156.4" stroke="#d1323e" stroke-width="1.6"/><circle cx="148.9" cy="325.3" r="3.5" fill="#d1323e"/>
<text x="158.64" y="332" style="font-family:&quot;Liberation Sans&quot;,sans-serif;font-size:20.42px" fill="#111" stroke="#fff" stroke-width="0.12" textLength="124.53" lengthAdjust="spacingAndGlyphs">Short lifetime</text>
<path d="M286.1 325.3H301" stroke="#87d4b4" stroke-width="1.6"/><rect x="289.7" y="321.8" width="7.2" height="7.2" fill="#87d4b4"/>
<text x="303.04" y="332" style="font-family:&quot;Liberation Sans&quot;,sans-serif;font-size:20.42px" fill="#111" stroke="#fff" stroke-width="0.12" textLength="145.54" lengthAdjust="spacingAndGlyphs">Medium lifetime</text>
<path d="M451 325.3H466" stroke="#8c5680" stroke-width="1.6"/><path d="M458.6 321.2l3.6 6.4h-7.2z" fill="#8c5680"/>
<text x="468.31" y="332" style="font-family:&quot;Liberation Sans&quot;,sans-serif;font-size:20.42px" fill="#111" stroke="#fff" stroke-width="0.12" textLength="119.95" lengthAdjust="spacingAndGlyphs">Long lifetime</text>
</svg>
</body></html>
